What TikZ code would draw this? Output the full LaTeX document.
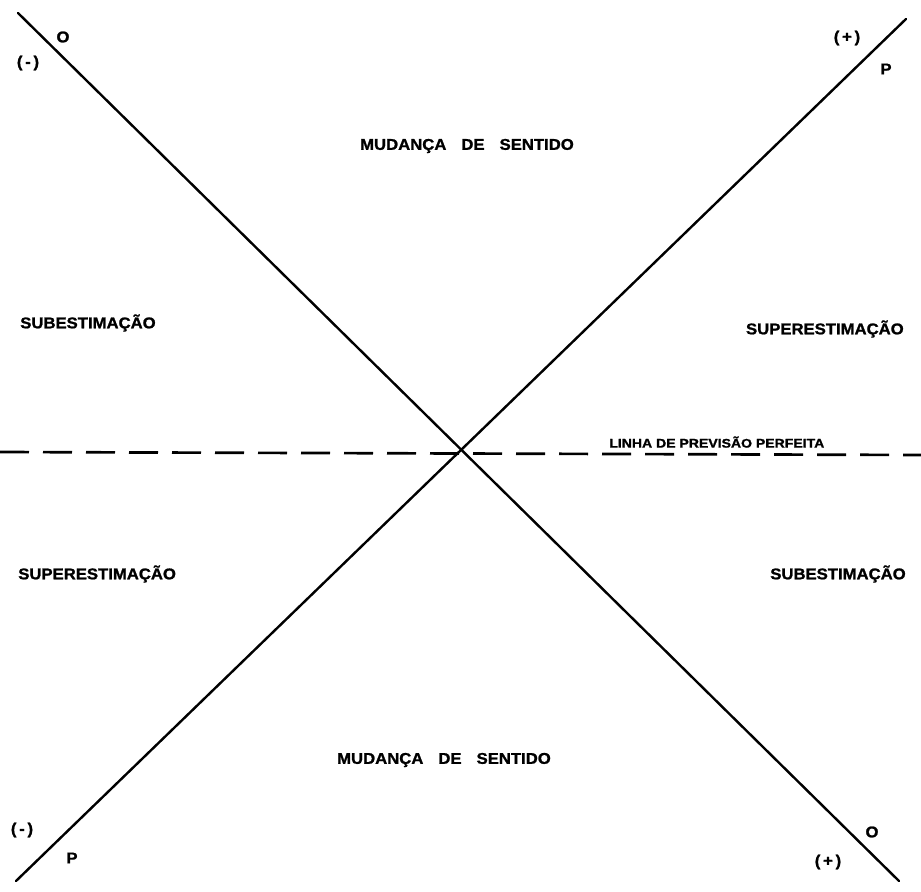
\documentclass[tikz,border=0pt]{standalone}
\usepackage{fontspec}
\setmainfont{Liberation Sans}[BoldFeatures={FakeBold=1.2}]
\begin{document}
\begin{tikzpicture}[x=0.75pt,y=-0.75pt,
  lab/.style={font=\bfseries\fontsize{11.7}{12}\selectfont, inner sep=0pt, xscale=1.07},
  small/.style={font=\bfseries\fontsize{9.4}{10}\selectfont, inner sep=0pt, xscale=1.12},
  axis/.style={line width=1.8pt, line cap=round},
  perfect/.style={line width=2pt, dash pattern=on 21.75pt off 10.5pt}]
\useasboundingbox (0,0) rectangle (921,892);
\coordinate (tl) at (18,13);
\coordinate (br) at (899,881);
\coordinate (tr) at (906,19);
\coordinate (bl) at (16,881);
\coordinate (dl) at (0,452);
\coordinate (dr) at (921,455);
\draw[axis] (tl) -- (br);
\draw[axis] (tr) -- (bl);
\draw[perfect] (dl) -- (dr);
\node[small, anchor=south west] (linha) at (609,448) {LINHA DE PREVISÃO PERFEITA};
\node[lab] (ms1) at (467,146) {MUDANÇA\hspace{0.9em}DE\hspace{0.9em}SENTIDO};
\node[lab] (ms2) at (444,760) {MUDANÇA\hspace{0.9em}DE\hspace{0.9em}SENTIDO};
\node[lab, anchor=west] (sub1) at (20,323) {SUBESTIMAÇÃO};
\node[lab, anchor=west] (sup1) at (18,574) {SUPERESTIMAÇÃO};
\node[lab, anchor=east] (sup2) at (904,329) {SUPERESTIMAÇÃO};
\node[lab, anchor=east] (sub2) at (906,574) {SUBESTIMAÇÃO};
\node[lab] (o1) at (63,37) {O};
\node[lab] (m1) at (28,63) {(\,-\,)};
\node[lab] (p1) at (847,38) {(\,+\,)};
\node[lab] (pp1) at (886,69) {P};
\node[lab] (m2) at (22,830) {(\,-\,)};
\node[lab] (pp2) at (72,858) {P};
\node[lab] (o2) at (872,832) {O};
\node[lab] (p2) at (828,862) {(\,+\,)};
\end{tikzpicture}
\end{document}
